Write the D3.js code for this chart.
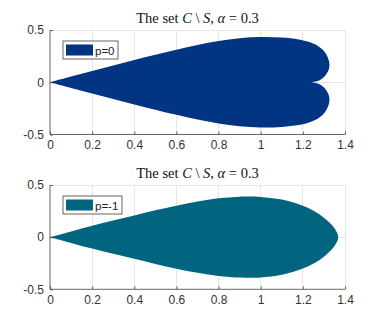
<!DOCTYPE html>
<html><head><meta charset="utf-8">
<script src="https://cdn.jsdelivr.net/npm/d3@7"></script>
<style>body{margin:0;background:#fff}svg{display:block}</style>
</head><body>
<svg id="c" width="382" height="324"></svg>
<script>
const xTicks = [0, 0.2, 0.4, 0.6, 0.8, 1, 1.2, 1.4];
const yTicks = [-0.5, 0, 0.5];
const legendLabels = ["p=0", "p=-1"];
const fillColors = ["#013583", "#02657f"];
// upper boundary (x, y) of each set; the shapes are symmetric about y = 0
const heartX = [0, 0.1, 0.2, 0.3, 0.4, 0.5, 0.6, 0.7, 0.8, 0.9, 1.0, 1.1, 1.18, 1.23, 1.27, 1.3, 1.318, 1.326, 1.324, 1.314, 1.298, 1.275, 1.239];
const heartY = [0, 0.055, 0.108, 0.16, 0.212, 0.262, 0.312, 0.357, 0.395, 0.422, 0.433, 0.428, 0.41, 0.385, 0.35, 0.3, 0.24, 0.18, 0.13, 0.085, 0.045, 0.015, 0];
const dropX = [0, 0.1, 0.2, 0.3, 0.4, 0.5, 0.6, 0.7, 0.8, 0.9, 0.95, 1.0, 1.1, 1.2, 1.266, 1.31, 1.345, 1.362, 1.368];
const dropY = [0, 0.055, 0.11, 0.16, 0.207, 0.257, 0.302, 0.342, 0.372, 0.388, 0.39, 0.386, 0.36, 0.3, 0.235, 0.17, 0.1, 0.045, 0];

const SANS = "'Liberation Sans', Arial, sans-serif";
const SERIF = "'Liberation Serif', 'Times New Roman', serif";
const svg = d3.select("#c");
const panels = [
  {top: 30, bottom: 134.5, xs: heartX, ys: heartY, label: legendLabels[0], color: fillColors[0], lw: 55, notch: true},
  {top: 185, bottom: 289.3, xs: dropX, ys: dropY, label: legendLabels[1], color: fillColors[1], lw: 59, notch: false}
];
const left = 50, right = 345;

panels.forEach(p => {
  const x = d3.scaleLinear().domain([0, 1.4]).range([left, right]);
  const y = d3.scaleLinear().domain([-0.5, 0.5]).range([p.bottom, p.top]);
  const g = svg.append("g");
  // grid
  g.selectAll(".gx").data(xTicks.slice(1)).join("line")
    .attr("x1", d => x(d)).attr("x2", d => x(d)).attr("y1", p.top).attr("y2", p.bottom)
    .attr("stroke", "#e6e6e6").attr("stroke-width", 1).attr("shape-rendering", "crispEdges");
  g.selectAll(".gy").data(yTicks.slice(1)).join("line")
    .attr("x1", left).attr("x2", right).attr("y1", d => y(d)).attr("y2", d => y(d))
    .attr("stroke", "#e6e6e6").attr("stroke-width", 1).attr("shape-rendering", "crispEdges");
  // shape
  const upper = p.xs.map((v, i) => [v, p.ys[i]]);
  const lower = p.xs.map((v, i) => [v, -p.ys[i]]).reverse();
  const line = d3.line().x(d => x(d[0])).y(d => y(d[1])).curve(d3.curveCatmullRom.alpha(0.5));
  let d;
  if (p.notch) {
    d = line(upper) + line(lower).replace(/^M[^C]*/, m => "L" + m.slice(1)) + "Z";
  } else {
    d = line(upper.concat(lower.slice(1))) + "Z";
  }
  g.append("path").attr("d", d).attr("fill", p.color);
  // axes
  const ax = g.append("g").attr("transform", `translate(0,${p.bottom})`)
    .call(d3.axisBottom(x).tickValues(xTicks).tickSize(-3).tickPadding(6).tickFormat(d => String(d)));
  const ay = g.append("g").attr("transform", `translate(${left},0)`)
    .call(d3.axisLeft(y).tickValues(yTicks).tickSize(-3).tickPadding(6).tickFormat(d => String(d)));
  [ax, ay].forEach(a => {
    a.select(".domain").attr("stroke", "#404040").attr("stroke-width", 0.8);
    a.selectAll(".tick line").attr("stroke", "#404040").attr("stroke-width", 0.8);
    a.selectAll("text").attr("fill", "#333").style("font-family", SANS).style("font-size", "12px");
  });
  ax.select(".domain").attr("d", `M${left},0H${right}`);
  ay.select(".domain").attr("d", `M0,${p.top}V${p.bottom}`);
  // title
  const t = g.append("text").attr("x", (left + right) / 2).attr("y", p.top - 7)
    .attr("text-anchor", "middle").style("font-family", SERIF)
    .style("font-size", "14.5px").attr("fill", "#111");
  t.append("tspan").text("The set ");
  t.append("tspan").style("font-style", "italic").text("C");
  t.append("tspan").text(" \\ ");
  t.append("tspan").style("font-style", "italic").text("S");
  t.append("tspan").text(", ");
  t.append("tspan").style("font-style", "italic").text("α");
  t.append("tspan").text(" = 0.3");
  // legend
  const lg = g.append("g").attr("transform", `translate(63,${p.top + 11})`);
  lg.append("rect").attr("width", p.lw).attr("height", 18).attr("fill", "#fff").attr("stroke", "#404040").attr("stroke-width", 0.8);
  lg.append("rect").attr("x", 3).attr("y", 3.5).attr("width", 27).attr("height", 11).attr("fill", p.color);
  lg.append("text").attr("x", 32).attr("y", 13.5).text(p.label)
    .style("font-family", SANS).style("font-size", "11.5px").attr("fill", "#222");
});
</script>
</body></html>
